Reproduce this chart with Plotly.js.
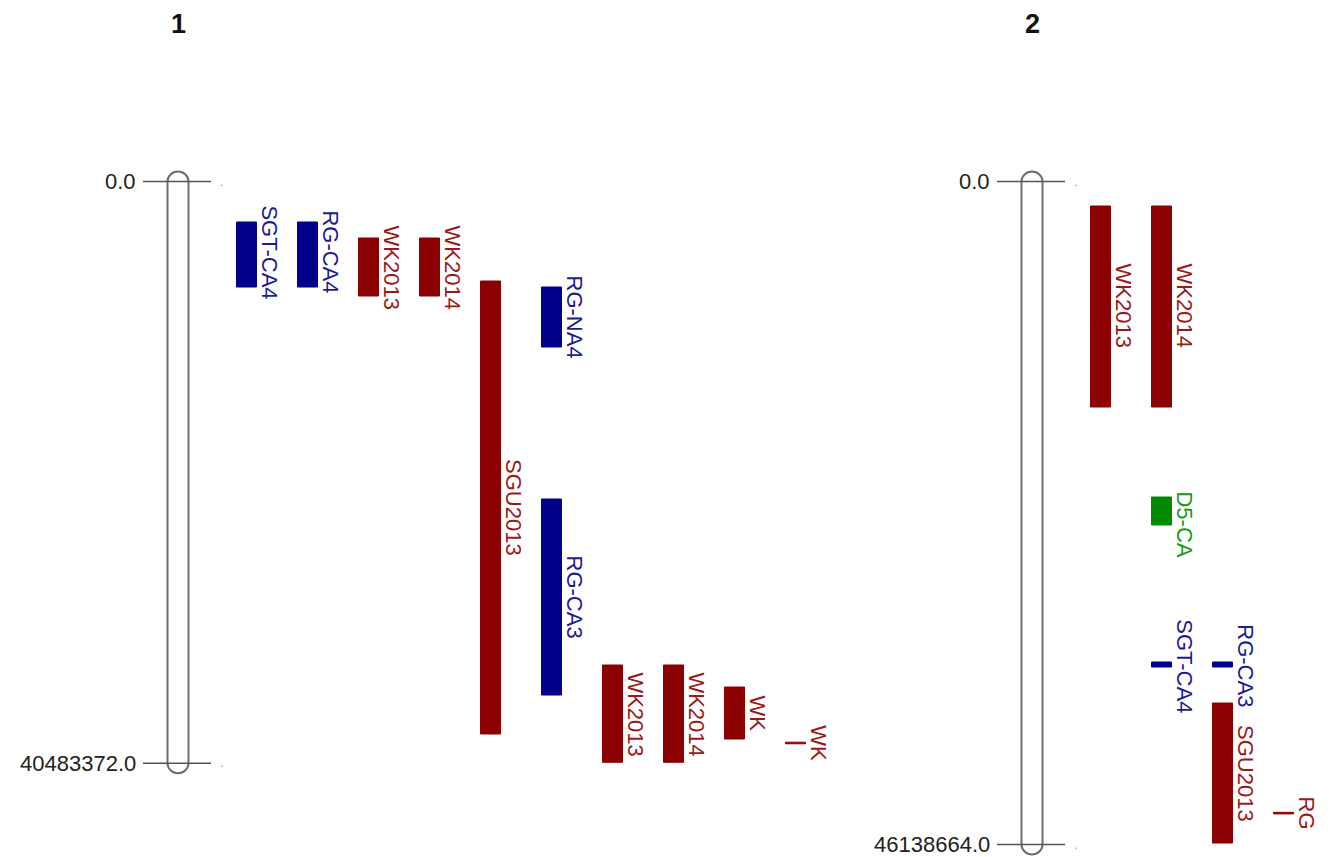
<!DOCTYPE html>
<html>
<head>
<meta charset="utf-8">
<script src="https://cdn.plot.ly/plotly-3.0.1.min.js"></script>
<style>html,body{margin:0;padding:0;background:#fff;}#chart{width:1336px;height:857px;}</style>
</head>
<body>
<div id="chart"></div>
<script>
// ---- data ----
const chromNames = ['1', '2'];
const chromLengths = [40483372.0, 46138664.0];

const qtlChrom = ['1','1','1','1','1','1','1','1','1','1','1', '2','2','2','2','2','2','2'];
const qtlName  = ['SGT-CA4','RG-CA4','WK2013','WK2014','SGU2013','RG-NA4','RG-CA3','WK2013','WK2014','WK','WK',
                  'WK2013','WK2014','D5-CA','SGT-CA4','RG-CA3','SGU2013','RG'];
const qtlStart = [2818000, 2818000, 3932000, 3932000, 6924000, 7342000, 22095000, 33647000, 33647000, 35178000, 39020000,
                  1705000, 1705000, 21956000, 33438000, 33438000, 36292000, 43900000];
const qtlEnd   = [7342000, 7342000, 7968000, 7968000, 38449000, 11517000, 35735000, 40420000, 40420000, 38797000, 39130000,
                  15693000, 15693000, 23904000, 33786000, 33786000, 46034000, 44010000];
const qtlLabelAt = [4900000, 4900000, 5950000, 5950000, 22690000, 9430000, 28915000, 37050000, 37050000, 36990000, 39050000,
                    8600000, 8600000, 23830000, 33700000, 33700000, 41200000, 43950000];
const qtlLane  = [0,1,2,3,4,5,5,6,7,8,9, 0,1,1,1,2,2,3];
const qtlTrait = ['CA','CA','WK','WK','WK','CA','CA','WK','WK','WK','WK', 'WK','WK','D5','CA','CA','WK','WK'];

// ---- styles / layout constants ----
const W = 1336, H = 857;
const Y0PX = 181.5, YENDPX = 844.5;           // pixel rows of 0 and of the longest chromosome
const chromCenterX = [178, 1032];
const laneOffset = 68.5, laneStep = 61, barWidth = 20;
const traitColor = {CA: '#00008b', WK: '#8b0000', D5: '#008a00'};
const labelColor = {CA: '#1a1a9a', WK: '#9a1a1a', D5: '#159a15'};
const FONT = 'Liberation Sans, Arial, sans-serif';

const maxLen = Math.max(...chromLengths);
const bpPerPx = maxLen / (YENDPX - Y0PX);
const yTop = -Y0PX * bpPerPx;
const yBottom = (H - Y0PX) * bpPerPx;
const capH = 10 * bpPerPx;   // rounded end height
const chrHalf = 10.5;

function laneX(i) {
  const c = chromCenterX[chromNames.indexOf(qtlChrom[i])];
  return c + laneOffset + laneStep * qtlLane[i];
}

// ---- traces: QTL bars per trait ----
const traces = [];
Object.keys(traitColor).forEach(t => {
  const xs = [], bases = [], lens = [], texts = [];
  qtlName.forEach((n, i) => {
    if (qtlTrait[i] !== t) return;
    xs.push(laneX(i));
    bases.push(qtlStart[i]);
    lens.push(qtlEnd[i] - qtlStart[i]);
    texts.push(n);
  });
  traces.push({
    type: 'bar', x: xs, y: lens, base: bases, width: barWidth,
    marker: {color: traitColor[t], line: {color: traitColor[t], width: 1}},
    hovertext: texts, hoverinfo: 'text', showlegend: false
  });
});

// ---- shapes: chromosomes and end ticks ----
const shapes = [];
const annotations = [];
chromNames.forEach((name, k) => {
  const c = chromCenterX[k], L = c - chrHalf, R = c + chrHalf, len = chromLengths[k];
  const kx = 0.552 * chrHalf, ky = 0.552 * capH;
  const path = `M ${L},0 L ${L},${len} ` +
    `C ${L},${len + ky} ${c - kx},${len + capH} ${c},${len + capH} ` +
    `C ${c + kx},${len + capH} ${R},${len + ky} ${R},${len} ` +
    `L ${R},0 ` +
    `C ${R},${-ky} ${c + kx},${-capH} ${c},${-capH} ` +
    `C ${c - kx},${-capH} ${L},${-ky} ${L},0 Z`;
  shapes.push({type: 'path', xref: 'x', yref: 'y', path: path,
    line: {color: '#6e6e6e', width: 2}, fillcolor: 'rgba(255,255,255,1)', layer: 'below'});
  [0, len].forEach(v => {
    shapes.push({type: 'line', xref: 'x', yref: 'y', x0: c - 35, x1: c + 33, y0: v, y1: v,
      line: {color: '#555', width: 1.5}});
    annotations.push({x: c - 40, y: v, xref: 'x', yref: 'y', text: v.toFixed(1), showarrow: false,
      xanchor: 'right', yanchor: 'middle', font: {family: FONT, size: 22, color: '#222'}});
    annotations.push({x: c + 40, y: v, xref: 'x', yref: 'y', text: '.', showarrow: false,
      xanchor: 'left', yanchor: 'middle', font: {family: FONT, size: 12, color: '#999'}});
  });
  annotations.push({x: c, y: 1 - 23.5 / H, xref: 'x', yref: 'paper', text: '<b>' + name + '</b>',
    showarrow: false, xanchor: 'center', yanchor: 'middle', font: {family: FONT, size: 27, color: '#111'}});
});

// ---- QTL labels ----
qtlName.forEach((n, i) => {
  annotations.push({x: laneX(i) + 23, y: qtlLabelAt[i], xref: 'x', yref: 'y', text: n, showarrow: false,
    textangle: 90, xanchor: 'center', yanchor: 'middle',
    font: {family: FONT, size: 22, color: labelColor[qtlTrait[i]]}});
});

const layout = {
  width: W, height: H,
  margin: {l: 0, r: 0, t: 0, b: 0},
  paper_bgcolor: '#fff', plot_bgcolor: '#fff',
  barmode: 'overlay',
  xaxis: {range: [0, W], visible: false, fixedrange: true},
  yaxis: {range: [yBottom, yTop], visible: false, fixedrange: true},
  shapes: shapes, annotations: annotations, showlegend: false
};

Plotly.newPlot('chart', traces, layout, {displayModeBar: false, staticPlot: true});
</script>
</body>
</html>
